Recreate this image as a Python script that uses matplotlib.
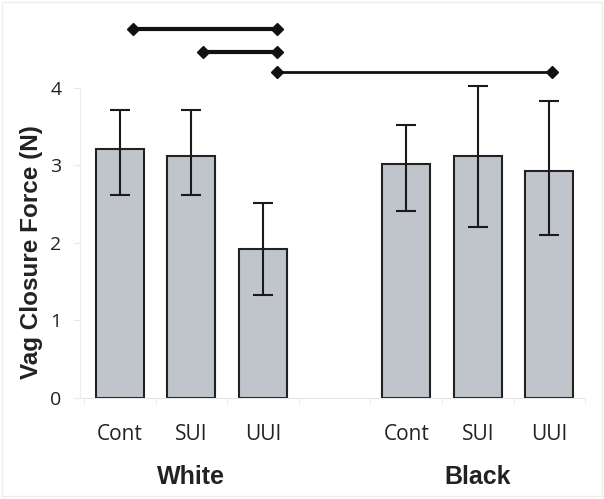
import matplotlib
matplotlib.use("Agg")
import matplotlib.pyplot as plt
from matplotlib.patches import Rectangle

# data
groups = ["White", "Black"]
categories = ["Cont", "SUI", "UUI", "Cont", "SUI", "UUI"]
positions = [0, 1, 2, 4, 5, 6]
means = [3.21, 3.12, 1.92, 3.02, 3.12, 2.93]
err_low = [2.62, 2.62, 1.33, 2.41, 2.20, 2.10]
err_high = [3.72, 3.72, 2.52, 3.52, 4.02, 3.83]

# significance lines: (x start, x end, y, line width)
sig_x0 = [0.18, 1.16, 2.20]
sig_x1 = [2.20, 2.20, 6.03]
sig_y = [4.76, 4.46, 4.21]
sig_lw = [3.0, 3.0, 2.0]

fig = plt.figure(figsize=(6.04, 4.99), dpi=100)
ax = fig.add_axes([0.132, 0.2024, 0.837, 0.7766])

yerr = [[m - lo for m, lo in zip(means, err_low)],
        [hi - m for m, hi in zip(means, err_high)]]
ax.bar(positions, means, width=0.67, color="#c0c5cc", edgecolor="#222222",
       linewidth=1.5, zorder=2)
ax.errorbar(positions, means, yerr=yerr, fmt="none", ecolor="#1a1a1a",
            elinewidth=1.5, capsize=7, capthick=1.5, zorder=3)

for x0, x1, y, lw in zip(sig_x0, sig_x1, sig_y, sig_lw):
    ax.plot([x0, x1], [y, y], color="#111111", linewidth=lw,
            marker="D", markersize=6, zorder=4, clip_on=False)

ax.set_xlim(-0.56, 6.5)
ax.set_ylim(0, 5)

for s in ["top", "right"]:
    ax.spines[s].set_visible(False)
ax.spines["left"].set_bounds(0, 4)
ax.spines["left"].set_color("#ececec")
ax.spines["bottom"].set_color("#e6e6e6")

ax.set_yticks([0, 1, 2, 3, 4])
ax.set_yticklabels(["0", "1", "2", "3", "4"], fontsize=14,
                   family=["Open Sans", "DejaVu Sans"], color="#222222")
ax.tick_params(axis="y", length=4, color="#e6e6e6", pad=9)

ax.set_xticks(positions)
ax.set_xticklabels(categories, fontsize=15,
                   family=["Open Sans", "DejaVu Sans"], color="#222222")
ax.tick_params(axis="x", length=0, pad=19)
ax.set_xticks([-0.5, 0.5, 1.5, 2.5, 3.5, 4.5, 5.5, 6.5], minor=True)
ax.tick_params(axis="x", which="minor", length=5, color="#ececec")

ax.text(1, -1.02, groups[0], ha="center", va="center", fontsize=18,
        fontweight="bold", family="Liberation Sans",
        transform=ax.transData, color="#222222")
ax.text(5, -1.02, groups[1], ha="center", va="center", fontsize=18,
        fontweight="bold", family="Liberation Sans",
        transform=ax.transData, color="#222222")

fig.text(0.052, 0.495, "Vag Closure Force (N)", rotation=90, ha="center",
         va="center", fontsize=17.5, fontweight="bold", family="Liberation Sans",
         color="#222222")

fig.patches.append(Rectangle((0.003, 0.006), 0.993, 0.99, transform=fig.transFigure,
                             fill=False, edgecolor="#eeeeee", linewidth=1))

fig.savefig("out.png", dpi=100)
